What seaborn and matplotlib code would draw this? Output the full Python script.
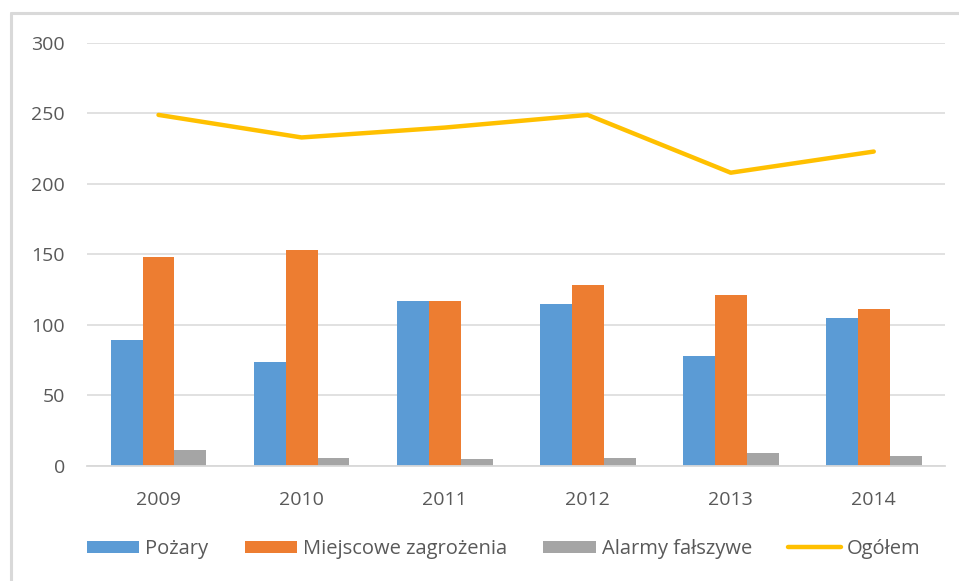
"""
Interwencje straży pożarnej 2009-2014: słupki wg rodzaju + linia ogółem.
"""

import numpy as np
import pandas as pd
import matplotlib
matplotlib.use("Agg")
import matplotlib.pyplot as plt
from matplotlib.lines import Line2D
import seaborn as sns


# =============================================
# DATA
# =============================================

years = ["2009", "2010", "2011", "2012", "2013", "2014"]
pozary = [89, 74, 117, 115, 78, 105]
miejscowe = [148, 153, 117, 128, 121, 111]
alarmy = [11, 6, 5, 6, 9, 7]
ogolem = [249, 233, 240, 249, 208, 223]

series_names = ["Pożary", "Miejscowe zagrożenia", "Alarmy fałszywe"]
line_name = "Ogółem"
colors = ["#5B9BD5", "#ED7D31", "#A5A5A5"]
line_color = "#FFC000"
text_color = "#595959"
grid_color = "#D9D9D9"

y_ticks = [0, 50, 100, 150, 200, 250, 300]


# =============================================
# PLOT
# =============================================

sns.set_theme(style="white")
plt.rcParams["font.family"] = ["Open Sans", "DejaVu Sans"]

df = pd.DataFrame({
    "rok": years * 3,
    "wartosc": pozary + miejscowe + alarmy,
    "seria": np.repeat(series_names, len(years)),
})

fig = plt.figure(figsize=(9.59, 5.81), dpi=100)
ax = fig.add_axes([0.0907, 0.198, 0.895, 0.728])

sns.barplot(data=df, x="rok", y="wartosc", hue="seria", hue_order=series_names,
            palette=colors, width=0.67, gap=0, saturation=1, linewidth=0,
            ax=ax)

line_df = pd.DataFrame({"pos": np.arange(len(years)), "ogolem": ogolem})
sns.lineplot(data=line_df, x="pos", y="ogolem", color=line_color,
             linewidth=3.2, ax=ax, label=line_name)

ax.set_xlim(-0.5, len(years) - 0.5)
ax.set_ylim(0, 300)
ax.set_yticks(y_ticks)
ax.set_xticks(np.arange(len(years)))
ax.set_xticklabels(years)
ax.set_xlabel("")
ax.set_ylabel("")

ax.yaxis.grid(True, color=grid_color, linewidth=1.1)
ax.set_axisbelow(True)
for side in ["top", "right", "left"]:
    ax.spines[side].set_visible(False)
ax.spines["bottom"].set_color(grid_color)
ax.spines["bottom"].set_linewidth(1.3)

ax.tick_params(axis="both", length=0, labelsize=14, labelcolor=text_color)
ax.tick_params(axis="y", pad=16)
ax.tick_params(axis="x", pad=18)

# legend below the plot
handles, labels = ax.get_legend_handles_labels()
ax.get_legend().remove()
fig.legend(handles, labels, loc="center", bbox_to_anchor=(0.525, 0.055),
           ncol=4, frameon=False, fontsize=14.5, labelcolor=text_color,
           handlelength=2.6, handleheight=0.6, handletextpad=0.3,
           columnspacing=1.8)

# chart border (top and left edge visible in the crop)
fig.add_artist(Line2D([11 / 959, 1], [1 - 13 / 581, 1 - 13 / 581],
                      color=grid_color, linewidth=2.2, transform=fig.transFigure))
fig.add_artist(Line2D([11 / 959, 11 / 959], [0, 1 - 13 / 581],
                      color=grid_color, linewidth=2.2, transform=fig.transFigure))

fig.savefig("out.png", dpi=100)
plt.close(fig)
